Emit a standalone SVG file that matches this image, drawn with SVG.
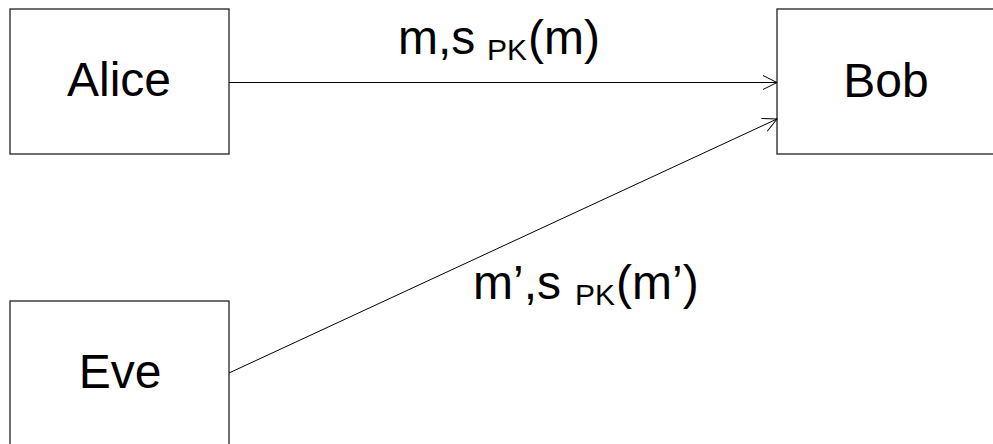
<svg xmlns="http://www.w3.org/2000/svg" width="993" height="444" viewBox="0 0 993 444">
<style>
.box{fill:#fff;stroke:#222;stroke-width:1.3}
.name{font-family:"Liberation Sans",Arial,sans-serif;font-size:48px;fill:#000;text-anchor:middle}
.lbl{font-family:"Liberation Sans",Arial,sans-serif;font-size:48px;fill:#000}
.sub{font-family:"Liberation Sans",Arial,sans-serif;font-size:30px;fill:#000}
.edge{stroke:#000;stroke-width:1;fill:none}
</style>
<defs>
<marker id="arr" viewBox="0 0 16 16" refX="15" refY="8" markerWidth="16" markerHeight="16" markerUnits="userSpaceOnUse" orient="auto">
<path d="M1,1 L15,8 L1,15" fill="none" stroke="#000" stroke-width="1"/>
</marker>
</defs>
<rect width="993" height="444" fill="#fff"/>
<g id="alice"><rect class="box" x="10" y="9" width="219" height="145"/><text class="name" x="119" y="96">Alice</text></g>
<g id="bob"><rect class="box" x="777" y="9" width="230" height="145"/><text class="name" x="886" y="97">Bob</text></g>
<g id="eve"><rect class="box" x="10" y="301" width="219" height="160"/><text class="name" x="120" y="388">Eve</text></g>
<g id="connectors">
<line class="edge" x1="229" y1="82.5" x2="777" y2="82.5" marker-end="url(#arr)"/>
<line class="edge" x1="229" y1="373" x2="777" y2="119" marker-end="url(#arr)"/>
</g>
<g id="labels">
<text class="lbl" x="398" y="54">m,s</text>
<text class="sub" x="487" y="60">PK</text>
<text class="lbl" x="528" y="54">(m)</text>
<text class="lbl" x="473" y="299">m’,s</text>
<text class="sub" x="575" y="305">PK</text>
<text class="lbl" x="616" y="299">(m’)</text>
</g>
</svg>
